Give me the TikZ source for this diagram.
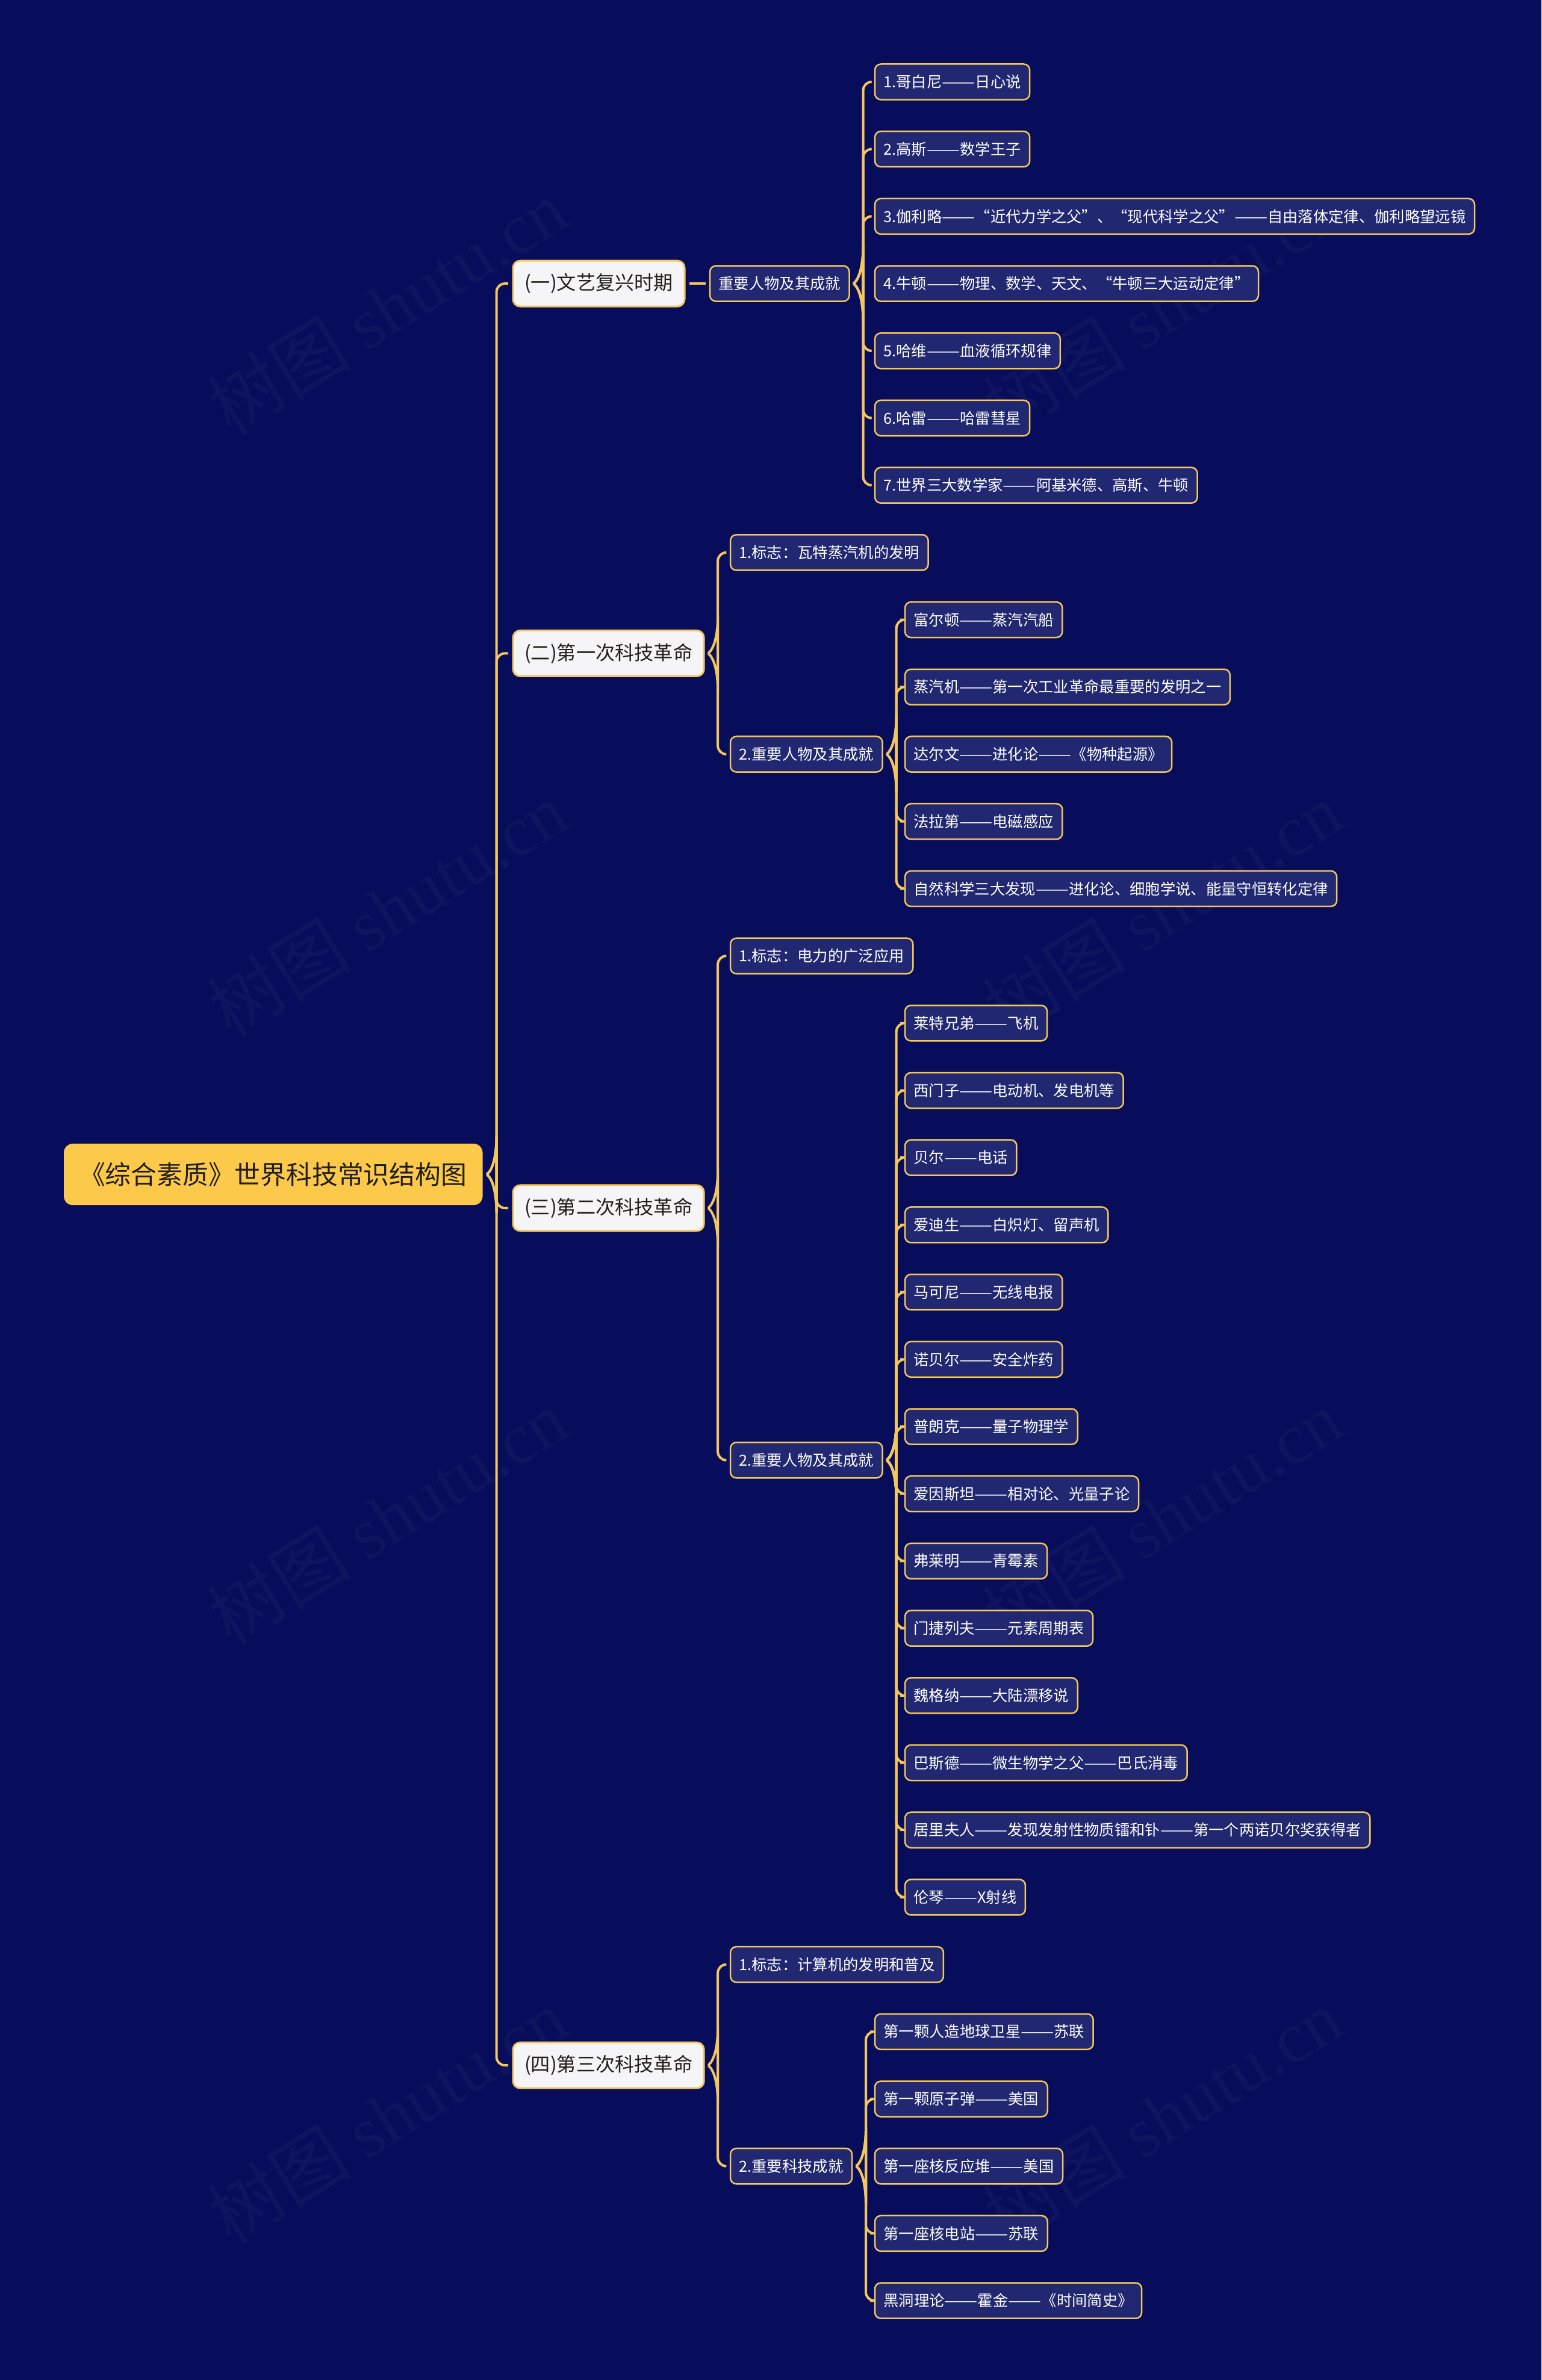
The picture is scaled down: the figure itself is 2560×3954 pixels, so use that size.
\documentclass[tikz,border=0pt]{standalone}
\usepackage{fontspec}
\setmainfont{Noto Sans CJK SC}
\newfontfamily\markserif{Liberation Serif}
\usetikzlibrary{calc}

\definecolor{navy}{RGB}{7,13,91}
\definecolor{leafblue}{RGB}{33,40,113}
\definecolor{gold}{RGB}{244,199,92}
\definecolor{rootgold}{RGB}{252,201,74}
\definecolor{topicwhite}{RGB}{245,245,247}
\definecolor{ink}{RGB}{34,30,24}
\definecolor{markink}{RGB}{15,20,94}

% centre of an outline row, in pixels of the 2560 x 3954 sheet (y runs down)
\newcommand{\rowy}[1]{{136+111.7*(#1)}}
% the long dash of the labels, a little wider than the font's own
\newcommand{\dd}{\scalebox{1.3}[1]{——}}
% brace arm from the right side of a parent to the left side of one child
\newcommand{\linkto}[2]{%
  \draw[link] let \p1=(#1.east), \p2=(#2.west), \n1={sign(\y2-\y1)} in
    ($(\p1)+(7,0)$) .. controls ($(\p1)+(16,-2*\n1)$) and ($(\p1)+(23,-8*\n1)$) .. ($(\p1)+(23,-18*\n1)$)
    [rounded corners=0.14cm] |- ($(\p2)+(-8,0)$);}

\begin{document}
\begin{tikzpicture}[x=0.01cm, y=-0.01cm,
  link/.style={draw=gold, line width=0.04cm},
  box/.style={anchor=west, outer sep=0pt, inner ysep=0pt},
  root/.style={box, fill=rootgold, rounded corners=0.15cm, inner xsep=0.26cm, minimum height=1.02cm,
    text=ink, font=\fontsize{12.2pt}{14pt}\selectfont},
  topic/.style={box, fill=topicwhite, draw=gold, line width=0.03cm, rounded corners=0.12cm, inner xsep=0.19cm,
    minimum height=0.76cm, text=ink, font=\fontsize{9.15pt}{11pt}\selectfont},
  leaf/.style={box, fill=leafblue, draw=gold, line width=0.025cm, rounded corners=0.1cm, inner xsep=0.145cm,
    minimum height=0.59cm, text=white, font=\fontsize{7.2pt}{9pt}\selectfont},
  wmark/.style={rotate=32, text=markink, font=\fontsize{34pt}{34pt}\selectfont}]
  \fill[navy] (0,0) rectangle (2560,3954);
  \useasboundingbox (0,0) rectangle (2560,3954);
  % faint watermark, two columns of four
  \foreach \wy in {510,1510,2520,3515} \foreach \wx in {643,1930}
    \node[wmark] at (\wx,\wy) {树图 {\markserif shutu.cn}};

  % root and the four periods
  \node[root] (root) at (106,\rowy{16.25}) {《综合素质》世界科技常识结构图};
  \node[topic] (t1) at (852,\rowy{3}) {(一)文艺复兴时期};
  \node[topic] (t2) at (852,\rowy{8.5}) {(二)第一次科技革命};
  \node[topic] (t3) at (852,\rowy{16.75}) {(三)第二次科技革命};
  \node[topic] (t4) at (852,\rowy{29.5}) {(四)第三次科技革命};
  \foreach \t in {t1,t2,t3,t4} \linkto{root}{\t};

  % (一) rows 0-6
  \node[leaf] (g1) at (1179,\rowy{3}) {重要人物及其成就};
  \draw[link] ($(t1.east)+(8,0)$) -- ($(g1.west)+(-7,0)$);
  \foreach \s [count=\k from 0] in {1.哥白尼\dd 日心说, 2.高斯\dd 数学王子,
      3.伽利略\dd “近代力学之父”、“现代科学之父”\dd 自由落体定律、伽利略望远镜,
      4.牛顿\dd 物理、数学、天文、“牛顿三大运动定律”, 5.哈维\dd 血液循环规律,
      6.哈雷\dd 哈雷彗星, 7.世界三大数学家\dd 阿基米德、高斯、牛顿} {
    \node[leaf] (g1-\k) at (1453,\rowy{\k}) {\s};
    \ifnum\k=3 \else \linkto{g1}{g1-\k}\fi
  }

  % (二) rows 7-12
  \node[leaf] (m2) at (1213,\rowy{7}) {1.标志：瓦特蒸汽机的发明};
  \node[leaf] (g2) at (1213,\rowy{10}) {2.重要人物及其成就};
  \linkto{t2}{m2} \linkto{t2}{g2}
  \foreach \s [count=\k from 8] in {富尔顿\dd 蒸汽汽船, 蒸汽机\dd 第一次工业革命最重要的发明之一,
      达尔文\dd 进化论\dd 《物种起源》, 法拉第\dd 电磁感应,
      自然科学三大发现\dd 进化论、细胞学说、能量守恒转化定律} {
    \node[leaf] (g2-\k) at (1503,\rowy{\k}) {\s};
    \ifnum\k=10 \else \linkto{g2}{g2-\k}\fi
  }

  % (三) rows 13-27
  \node[leaf] (m3) at (1213,\rowy{13}) {1.标志：电力的广泛应用};
  \node[leaf] (g3) at (1213,\rowy{20.5}) {2.重要人物及其成就};
  \linkto{t3}{m3} \linkto{t3}{g3}
  \foreach \s [count=\k from 14] in {莱特兄弟\dd 飞机, 西门子\dd 电动机、发电机等, 贝尔\dd 电话,
      爱迪生\dd 白炽灯、留声机, 马可尼\dd 无线电报, 诺贝尔\dd 安全炸药, 普朗克\dd 量子物理学,
      爱因斯坦\dd 相对论、光量子论, 弗莱明\dd 青霉素, 门捷列夫\dd 元素周期表, 魏格纳\dd 大陆漂移说,
      巴斯德\dd 微生物学之父\dd 巴氏消毒, 居里夫人\dd 发现发射性物质镭和钋\dd 第一个两诺贝尔奖获得者,
      伦琴\dd X射线} {
    \node[leaf] (g3-\k) at (1503,\rowy{\k}) {\s};
    \linkto{g3}{g3-\k}
  }

  % (四) rows 28-33
  \node[leaf] (m4) at (1213,\rowy{28}) {1.标志：计算机的发明和普及};
  \node[leaf] (g4) at (1213,\rowy{31}) {2.重要科技成就};
  \linkto{t4}{m4} \linkto{t4}{g4}
  \foreach \s [count=\k from 29] in {第一颗人造地球卫星\dd 苏联, 第一颗原子弹\dd 美国,
      第一座核反应堆\dd 美国, 第一座核电站\dd 苏联, 黑洞理论\dd 霍金\dd 《时间简史》} {
    \node[leaf] (g4-\k) at (1453,\rowy{\k}) {\s};
    \ifnum\k=31 \else \linkto{g4}{g4-\k}\fi
  }
\end{tikzpicture}
\end{document}
